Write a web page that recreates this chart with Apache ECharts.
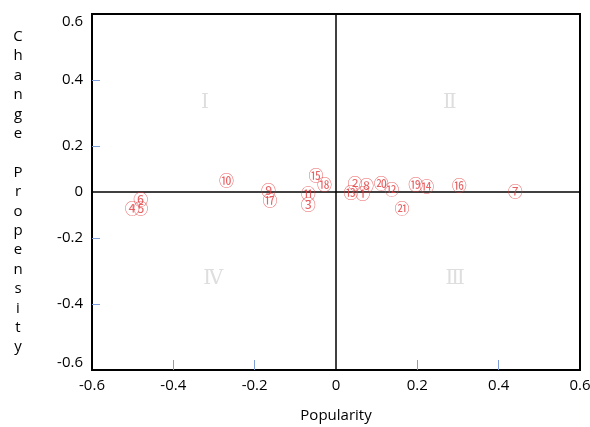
<!DOCTYPE html>
<html>
<head>
<meta charset="utf-8">
<script src="https://cdn.jsdelivr.net/npm/echarts@6/dist/echarts.min.js"></script>
<style>html,body{margin:0;padding:0;background:#fff;}#c{width:590px;height:427px;}</style>
</head>
<body>
<div id="c"></div>
<script>
// ---- data ----
const pointIds = [1,2,3,4,5,6,7,8,9,10,11,12,13,14,15,16,17,18,19,20,21];
const popularity = [0.066,0.047,-0.068,-0.501,-0.480,-0.480,0.441,0.075,-0.166,-0.269,-0.068,0.137,0.037,0.223,-0.049,0.303,-0.162,-0.028,0.196,0.111,0.162];
const changePropensity = [-0.007,0.039,-0.055,-0.072,-0.072,-0.033,0.003,0.029,0.006,0.049,-0.004,0.013,-0.002,0.024,0.073,0.027,-0.036,0.035,0.035,0.039,-0.072];
const circled = ['①','②','③','④','⑤','⑥','⑦','⑧','⑨','⑩','⑪','⑫','⑬','⑭','⑮','⑯','⑰','⑱','⑲','⑳','㉑'];
const xTicks = [-0.6,-0.4,-0.2,0,0.2,0.4,0.6];
const yTicks = [-0.6,-0.4,-0.2,0,0.2,0.4,0.6];
const quadrantNames = ['Ⅰ','Ⅱ','Ⅲ','Ⅳ'];
const quadrantX = [-0.322,0.280,0.293,-0.302];
const quadrantY = [0.330,0.330,-0.324,-0.324];

// piecewise y scale of the original chart: inner band |v|<=0.2 is compressed
const INNER = 46, OUTER = 132;
function yScale(v){
  const a = Math.abs(v), s = v < 0 ? -1 : 1;
  if (a <= 0.2) return s * a / 0.2 * INNER;
  return s * (INNER + (a - 0.2) / 0.4 * OUTER);
}
const yTickU = yTicks.map(yScale);
function yLabel(u){
  let best = 0, d = Infinity;
  yTicks.forEach((t,i)=>{ const dd = Math.abs(yTickU[i]-u); if (dd<d){d=dd;best=t;} });
  return best === 0 ? '0' : String(best);
}

const font = "'Open Sans', 'Noto Sans', sans-serif";
const chart = echarts.init(document.getElementById('c'), null, {renderer:'canvas'});
chart.setOption({
  animation:false,
  backgroundColor:'#fff',
  grid:{left:92,right:10,top:14,bottom:57,outerBoundsMode:'none',containLabel:false,show:true,borderColor:'#000',borderWidth:2,backgroundColor:'transparent'},
  xAxis:{
    type:'value', min:-0.6, max:0.6, interval:0.2,
    name:'Popularity', nameLocation:'middle', nameGap:38,
    nameTextStyle:{fontFamily:font,fontSize:15,color:'#000'},
    axisLine:{show:true,onZero:false,lineStyle:{color:'#000',width:2}},
    axisTick:{show:true,inside:true,length:10,customValues:xTicks.filter(t=>t!==0&&Math.abs(t)<0.6),lineStyle:{color:'#7f9ed9',width:1}},
    axisLabel:{fontFamily:font,fontSize:15,color:'#000',margin:8,
      customValues:xTicks,
      formatter:v=> Math.abs(v)<1e-9 ? '0' : String(Math.round(v*10)/10)},
    splitLine:{show:false}
  },
  yAxis:{
    type:'value', min:yTickU[0], max:yTickU[yTickU.length-1],
    name:'C\nh\na\nn\ng\ne\n\nP\nr\no\np\ne\nn\ns\ni\nt\ny',
    nameLocation:'middle', nameRotate:0, nameGap:74,
    nameTextStyle:{fontFamily:font,fontSize:15,color:'#000',lineHeight:19.4,align:'center',verticalAlign:'middle'},
    axisLine:{show:true,onZero:false,lineStyle:{color:'#000',width:2}},
    axisTick:{show:true,inside:true,length:8,customValues:yTickU.filter((u,i)=>yTicks[i]!==0&&Math.abs(yTicks[i])<0.6),lineStyle:{color:'#7f9ed9',width:1}},
    axisLabel:{fontFamily:font,fontSize:15,color:'#000',margin:9,
      customValues:yTickU, formatter:yLabel,
      verticalAlignMaxLabel:'top', verticalAlignMinLabel:'bottom'},
    splitLine:{show:false}
  },
  series:[
    {
      type:'scatter',
      data:pointIds.map((id,i)=>({value:[popularity[i], yScale(changePropensity[i])], name:circled[i]})),
      symbol:'circle', symbolSize:1,
      itemStyle:{color:'rgba(0,0,0,0)'},
      label:{show:true,position:'inside',formatter:p=>p.name,
        fontFamily:"'Noto Sans CJK SC', 'DejaVu Sans', sans-serif",fontSize:15,color:'#e23a3c'},
      markLine:{
        silent:true, symbol:['none','none'], label:{show:false},
        lineStyle:{color:'#000',width:1.5,type:'solid'},
        data:[{xAxis:0},{yAxis:0}]
      },
      z:5
    },
    {
      type:'scatter',
      data:quadrantNames.map((n,i)=>({value:[quadrantX[i], yScale(quadrantY[i])], name:n})),
      symbolSize:1, itemStyle:{color:'rgba(0,0,0,0)'},
      label:{show:true,position:'inside',formatter:p=>p.name,
        fontFamily:"'DejaVu Serif', serif",fontSize:20,color:'#d6d6d6'},
      silent:true, z:1
    }
  ]
});
</script>
</body>
</html>
